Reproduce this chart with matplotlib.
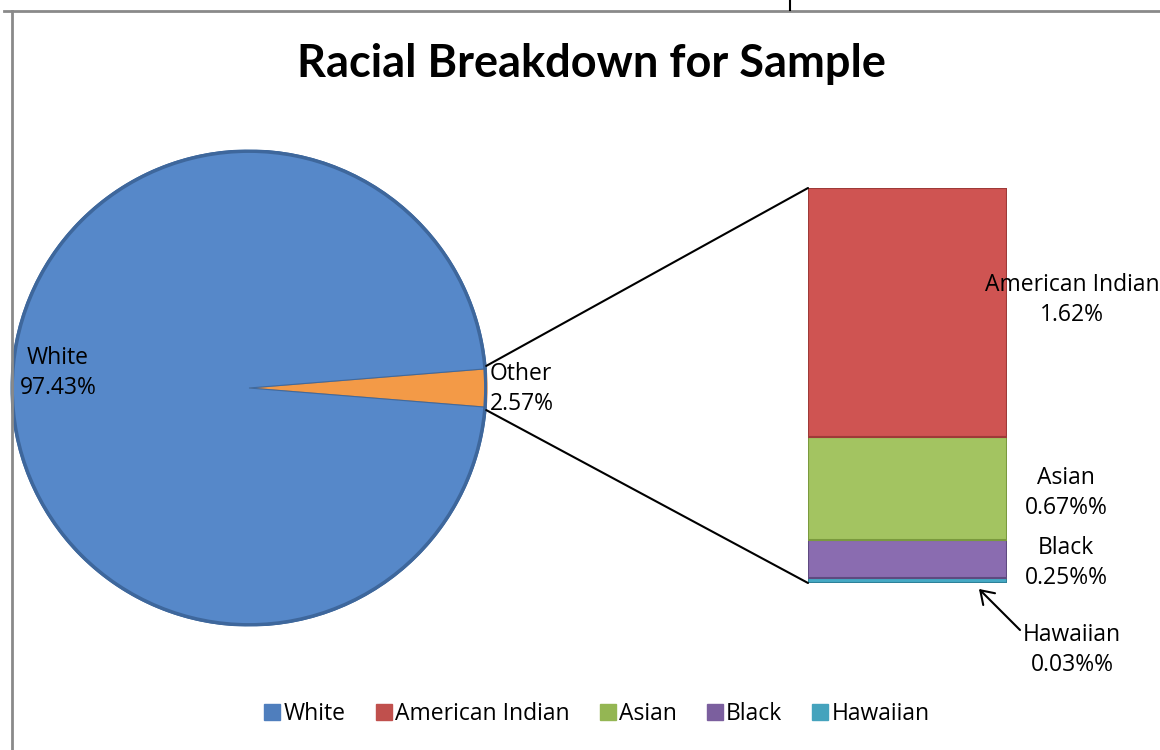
import matplotlib
matplotlib.use("Agg")
import matplotlib.pyplot as plt
import numpy as np
from matplotlib.patches import ConnectionPatch, Circle
from matplotlib.lines import Line2D

# ---- data ----
title = "Racial Breakdown for Sample"
pie_labels = ["Other", "White"]
pie_values = [2.57, 97.43]
pie_colors = ["#F39A47", "#5688C9"]

bar_labels = ["Hawaiian", "Black", "Asian", "American Indian"]
bar_values = [0.03, 0.25, 0.67, 1.62]
bar_colors = ["#46A9C4", "#8A6CB0", "#A3C461", "#CF5452"]
bar_texts = ["Hawaiian\n0.03%%", "Black\n0.25%%", "Asian\n0.67%%", "American Indian\n1.62%"]

legend_labels = ["White", "American Indian", "Asian", "Black", "Hawaiian"]
legend_colors = ["#4F7EBD", "#C0504D", "#94B653", "#7B5F9E", "#45A3BD"]

W, H = 1160, 750
fig = plt.figure(figsize=(W / 100, H / 100), dpi=100)
fig.patch.set_facecolor("white")

def fbox(x0, y0, x1, y1):
    return [x0 / W, 1 - y1 / H, (x1 - x0) / W, (y1 - y0) / H]

TXT = "Open Sans"
FS = 16.5

# ---- pie ----
cx, cy, r = 249, 388, 238
axp = fig.add_axes(fbox(cx - r, cy - r, cx + r, cy + r))
half = pie_values[0] / 100 * 180
wedges, _ = axp.pie(pie_values, colors=pie_colors, startangle=-half, counterclock=True,
                    radius=1, wedgeprops=dict(edgecolor="#3F6A9F", linewidth=0.8))
wedges[0].set_edgecolor("#C9742C")
axp.add_patch(Circle((0, 0), 0.995, fill=False, edgecolor="#3E679C", linewidth=2.5))
axp.set_xlim(-1, 1)
axp.set_ylim(-1, 1)
axp.set_aspect("equal")
axp.axis("off")

# ---- bar ----
axb = fig.add_axes(fbox(808, 188, 1007, 583))
bottom = 0.0
edge_cols = ["#2E8199", "#5E4A80", "#7A9A3E", "#9E3A38"]
for v, c, ec in zip(bar_values, bar_colors, edge_cols):
    axb.bar(0.5, v, width=1.0, bottom=bottom, color=c, edgecolor=ec, linewidth=1.5)
    bottom += v
axb.set_xlim(0, 1)
axb.set_ylim(0, sum(bar_values))
axb.axis("off")

# ---- connector lines ----
ang = np.deg2rad(half)
for sgn, yb in [(1, sum(bar_values)), (-1, 0)]:
    con = ConnectionPatch(xyA=(np.cos(ang), sgn * np.sin(ang) * 1.15), coordsA=axp.transData,
                          xyB=(0, yb), coordsB=axb.transData, color="black", linewidth=1.5)
    fig.add_artist(con)

# ---- text helper in pixel coords ----
def ptxt(x, y, s, **kw):
    fig.text(x / W, 1 - y / H, s, **kw)

ptxt(591, 64, title, fontsize=32.5, fontweight="bold", family="Lato", ha="center", va="center")

LS = 1.32
ptxt(58, 373, "White\n97.43%", fontsize=FS, family=TXT, ha="center", va="center", linespacing=LS)
ptxt(490, 389, "Other\n2.57%", fontsize=FS, family=TXT, ha="left", va="center", linespacing=LS)

ptxt(1072, 300, bar_texts[3], fontsize=FS, family=TXT, ha="center", va="center", linespacing=LS)
ptxt(1066, 493, bar_texts[2], fontsize=FS, family=TXT, ha="center", va="center", linespacing=LS)
ptxt(1066, 563, bar_texts[1], fontsize=FS, family=TXT, ha="center", va="center", linespacing=LS)
ptxt(1072, 650, bar_texts[0], fontsize=FS, family=TXT, ha="center", va="center", linespacing=LS)

# arrow for Hawaiian
fig.add_artist(matplotlib.patches.FancyArrowPatch(
    posA=(1022 / W, 1 - 632 / H), posB=(977 / W, 1 - 587 / H), transform=fig.transFigure,
    arrowstyle="->,head_length=9,head_width=6", color="black", linewidth=1.5, mutation_scale=1))

# ---- frame ----
fig.add_artist(Line2D([4 / W, 1], [1 - 11 / H, 1 - 11 / H], transform=fig.transFigure, color="#8A8A8A", linewidth=2))
fig.add_artist(Line2D([12 / W, 12 / W], [0, 1 - 11 / H], transform=fig.transFigure, color="#8A8A8A", linewidth=2))
fig.add_artist(Line2D([790 / W, 790 / W], [1, 1 - 10 / H], transform=fig.transFigure, color="black", linewidth=1.5))

# ---- legend ----
handles = [Line2D([], [], marker="s", linestyle="none", markersize=11, markerfacecolor=c,
                  markeredgecolor=c) for c in legend_colors]
fig.legend(handles, legend_labels, loc="center", bbox_to_anchor=(596 / W, 1 - 714 / H), ncol=5,
           frameon=False, prop={"family": TXT, "size": FS}, handletextpad=0.05, columnspacing=1.2,
           handlelength=0.9)

fig.savefig("out.png", dpi=100)
